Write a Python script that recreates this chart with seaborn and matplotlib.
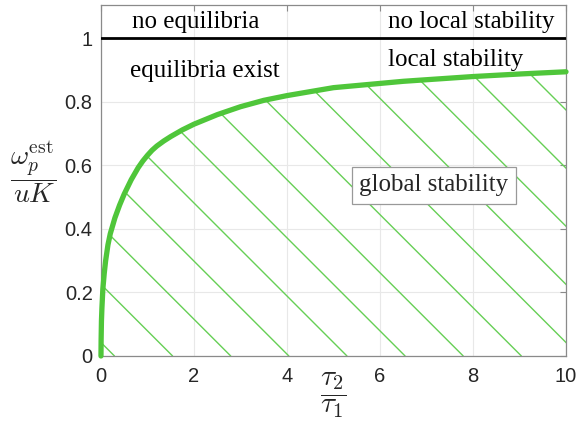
import numpy as np
import matplotlib
matplotlib.use("Agg")
import matplotlib.pyplot as plt
from matplotlib.patches import PathPatch
import seaborn as sns

# Stability boundary: estimated pursuit gain vs. time-constant ratio
tau_ratio = [0.0, 0.003, 0.01, 0.02, 0.04, 0.07, 0.10, 0.15, 0.20, 0.30, 0.40,
             0.50, 0.65, 0.80, 0.90, 1.00, 1.10, 1.20, 1.35, 1.50, 1.75, 2.00,
             2.50, 3.00, 3.50, 4.00, 5.00, 6.50, 7.00, 8.00, 9.00, 10.0]
omega_norm = [0.0, 0.05, 0.11, 0.15, 0.21, 0.26, 0.30, 0.35, 0.385, 0.435, 0.475,
              0.51, 0.555, 0.593, 0.614, 0.632, 0.648, 0.661, 0.677, 0.691, 0.712,
              0.73, 0.76, 0.785, 0.805, 0.82, 0.845, 0.865, 0.87, 0.88, 0.888, 0.895]
existence_limit = 1.0

x_ticks = [0, 2, 4, 6, 8, 10]
y_ticks = [0, 0.2, 0.4, 0.6, 0.8, 1.0]
y_tick_labels = ["0", "0.2", "0.4", "0.6", "0.8", "1"]

region_labels = ["no equilibria", "equilibria exist", "no local stability",
                 "local stability", "global stability"]

GREEN = "#4fc63a"
HATCH_GREEN = "#66cf55"
AXIS_GRAY = "#8a8a8a"

sns.set_theme(style="white")
plt.rcParams["font.family"] = ["Liberation Sans", "DejaVu Sans"]
plt.rcParams["mathtext.fontset"] = "cm"

fig = plt.figure(figsize=(5.82, 4.25), dpi=100)
ax = fig.add_axes([0.1735, 0.1624, 0.799, 0.8256])
ax.set_xlim(0, 10)
ax.set_ylim(0, 1.105)

ax.grid(True, color="#e8e8e8", linewidth=0.8)
ax.set_axisbelow(True)

# Region under the boundary (global stability), hatched with 45-degree lines
fill = ax.fill_between(tau_ratio, 0, omega_norm, facecolor="none", edgecolor="none")
region_path = fill.get_paths()[0]
clip_patch = PathPatch(region_path, transform=ax.transData, facecolor="none",
                       edgecolor="none")
ax.add_patch(clip_patch)

fig.canvas.draw()
p0 = ax.transData.transform((0, 0))
p1 = ax.transData.transform((1, 1))
px_per_x = p1[0] - p0[0]
px_per_y = p1[1] - p0[1]
slope = px_per_x / px_per_y  # data slope giving 45 degrees on screen
ytop = 1.105
for x0 in np.arange(0.29, 15.5, 1.25):
    ln, = ax.plot([x0, x0 - ytop / slope], [0, ytop], color=HATCH_GREEN,
                  linewidth=1.0, zorder=2)
    ln.set_clip_path(clip_patch)

sns.lineplot(x=tau_ratio, y=omega_norm, ax=ax, color=GREEN, linewidth=3.8,
             zorder=4, clip_on=False, sort=False)
ax.axhline(existence_limit, color="black", linewidth=2.0, zorder=4)

serif = dict(family="Liberation Serif", fontsize=18, color="black", va="center", ha="left")
ax.text(0.67, 1.053, region_labels[0], **serif)
ax.text(0.63, 0.897, region_labels[1], **serif)
ax.text(6.17, 1.053, region_labels[2], **serif)
ax.text(6.17, 0.931, region_labels[3], **serif)
ax.text(7.16, 0.538, region_labels[4], family="Liberation Serif", fontsize=18,
        ha="center", va="center", zorder=5,
        bbox=dict(boxstyle="square,pad=0.3", facecolor="white",
                  edgecolor="#999999", linewidth=0.9))

ax.set_xticks(x_ticks)
ax.set_yticks(y_ticks)
ax.set_yticklabels(y_tick_labels)
ax.tick_params(direction="in", length=4, width=0.8, top=True, right=True,
               color=AXIS_GRAY, labelcolor="#262626", labelsize=14.5, pad=6)
ax.tick_params(axis="x", pad=8)
for s in ax.spines.values():
    s.set_visible(True)
    s.set_color(AXIS_GRAY)
    s.set_linewidth(0.9)

ax.set_xlabel(r"$\dfrac{\tau_2}{\tau_1}$", fontsize=21, color="#262626",
              va="center")
ax.xaxis.set_label_coords(0.5, -0.113)
ax.set_ylabel(r"$\dfrac{\omega_p^{\mathrm{est}}}{uK}$", fontsize=20,
              rotation=0, ha="center", va="center", color="#262626")
ax.yaxis.set_label_coords(-0.146, 0.524)

fig.savefig("out.png", dpi=100)
